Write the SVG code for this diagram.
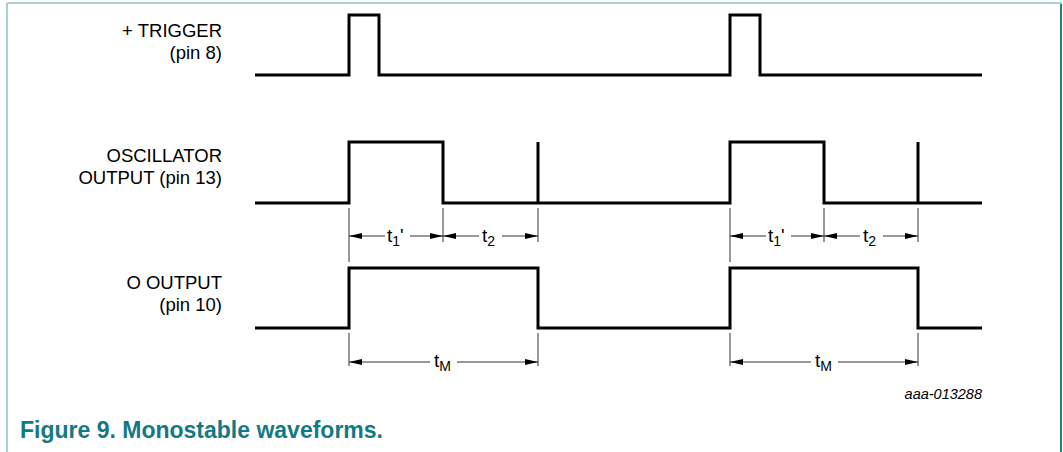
<svg xmlns="http://www.w3.org/2000/svg" width="1063" height="452" viewBox="0 0 1063 452">
<style>
.wave{fill:none;stroke:#000;stroke-width:3;stroke-linejoin:miter;stroke-linecap:butt}
.ext{fill:none;stroke:#555;stroke-width:1.2}
.dim{fill:none;stroke:#333;stroke-width:1}
.lbl{font-family:"Liberation Sans",Arial,sans-serif;font-size:18.5px;fill:#000;text-anchor:end}
.t{font-family:"Liberation Sans",Arial,sans-serif;font-size:19px;fill:#000}
.sub{font-size:14px}
.code{font-family:"Liberation Sans",Arial,sans-serif;font-size:14.5px;font-style:italic;fill:#000;text-anchor:end}
.cap{font-family:"Liberation Sans",Arial,sans-serif;font-size:23px;font-weight:bold;fill:#137a84}
</style>
<defs>
<marker id="ah" viewBox="0 0 13 6" refX="13" refY="3" markerWidth="13" markerHeight="6" markerUnits="userSpaceOnUse" orient="auto-start-reverse">
<path d="M0,0 L13,3 L0,6 Z" fill="#000"/>
</marker>
</defs>
<rect width="1063" height="452" fill="#fff"/>
<g id="frame">
<line x1="7" y1="3" x2="1062" y2="3" stroke="#a6d3d3" stroke-width="2"/>
<line x1="7" y1="3" x2="7" y2="452" stroke="#a6d3d3" stroke-width="2"/>
<line x1="1061" y1="4" x2="1061" y2="452" stroke="#2b7f86" stroke-width="2"/>
</g>
<g id="labels">
<g id="trigger-label"><text class="lbl" x="222" y="37">+ TRIGGER</text><text class="lbl" x="222" y="59">(pin 8)</text></g>
<g id="osc-label"><text class="lbl" x="222" y="162">OSCILLATOR</text><text class="lbl" x="222" y="184">OUTPUT (pin 13)</text></g>
<g id="q-label"><text class="lbl" x="222" y="289">O OUTPUT</text><text class="lbl" x="222" y="311">(pin 10)</text></g>
</g>
<g id="waveforms">
<path id="trigger" class="wave" d="M255,75 H349 V15 H379 V75 H730 V15 H760 V75 H982"/>
<path id="oscillator" class="wave" d="M255,203 H349 V142 H443 V203 H538 V142 V203 H730 V142 H824 V203 H918 V142 V203 H982"/>
<path id="q-output" class="wave" d="M255,328 H349 V268 H538 V328 H730 V268 H918 V328 H982"/>
</g>
<g id="connectors">
<path class="ext" d="M349,208 V262 M443,208 V242 M538,208 V242 M730,208 V262 M824,208 V242 M918,208 V242 M349,333 V366 M538,333 V366 M730,333 V366 M918,333 V366"/>
<path class="dim" marker-start="url(#ah)" d="M349,236 H385"/>
<path class="dim" marker-end="url(#ah)" d="M410,236 H443"/>
<path class="dim" marker-start="url(#ah)" d="M443,236 H479"/>
<path class="dim" marker-end="url(#ah)" d="M502,236 H538"/>
<path class="dim" marker-start="url(#ah)" d="M349,362 H430"/>
<path class="dim" marker-end="url(#ah)" d="M457,362 H538"/>
<path class="dim" marker-start="url(#ah)" d="M730,236 H766"/>
<path class="dim" marker-end="url(#ah)" d="M791,236 H824"/>
<path class="dim" marker-start="url(#ah)" d="M824,236 H860"/>
<path class="dim" marker-end="url(#ah)" d="M883,236 H918"/>
<path class="dim" marker-start="url(#ah)" d="M730,362 H811"/>
<path class="dim" marker-end="url(#ah)" d="M838,362 H918"/>
</g>
<g id="dim-labels">
<text class="t" x="387" y="242">t<tspan class="sub" dy="4">1</tspan><tspan dy="-4">'</tspan></text>
<text class="t" x="482" y="242">t<tspan class="sub" dy="4">2</tspan></text>
<text class="t" x="434" y="367">t<tspan class="sub" dy="4">M</tspan></text>
<text class="t" x="768" y="242">t<tspan class="sub" dy="4">1</tspan><tspan dy="-4">'</tspan></text>
<text class="t" x="863" y="242">t<tspan class="sub" dy="4">2</tspan></text>
<text class="t" x="815" y="367">t<tspan class="sub" dy="4">M</tspan></text>
</g>
<text class="code" x="982" y="399">aaa-013288</text>
<text class="cap" x="20" y="438">Figure 9. Monostable waveforms.</text>
</svg>
